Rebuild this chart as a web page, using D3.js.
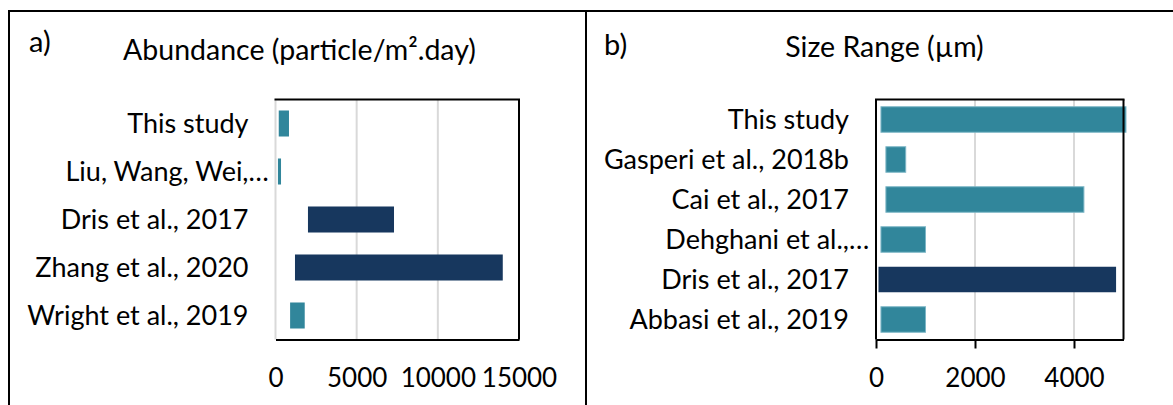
<!DOCTYPE html>
<html><head><meta charset="utf-8">
<script src="https://cdn.jsdelivr.net/npm/d3@7"></script>
<style>
body{margin:0;background:#fff}
svg{display:block}
text{font-family:Lato, "Open Sans", sans-serif; fill:#000}
</style>
</head><body>
<svg id="chart" width="1173" height="405"></svg>
<script>
// ---- Data ----
const abundanceStudies = ["This study", "Liu, Wang, Wei,…", "Dris et al., 2017", "Zhang et al., 2020", "Wright et al., 2019"];
const abundanceLow  = [200, 150, 2000, 1200, 900];
const abundanceHigh = [830, 340, 7300, 14000, 1800];
const abundanceDark = [false, false, true, true, false];
const abundanceTicks = [0, 5000, 10000, 15000];
const abundanceMax = 15000;

const sizeStudies = ["This study", "Gasperi et al., 2018b", "Cai et al., 2017", "Dehghani et al.,…", "Dris et al., 2017", "Abbasi et al., 2019"];
const sizeLow  = [100, 200, 200, 100, 50, 100];
const sizeHigh = [5050, 600, 4200, 1000, 4850, 1000];
const sizeDark = [false, false, false, false, true, false];
const sizeTicks = [0, 2000, 4000];
const sizeMax = 5000;

const titles = ["Abundance (particle/m\u00B2.day)", "Size Range (\u00B5m)"];
const panelTags = ["a)", "b)"];

// ---- Style ----
const TEAL = "#31869B", NAVY = "#17375E", GRID = "#d9d9d9";
const svg = d3.select("#chart");

// outer frame
svg.append("line").attr("x1", 8).attr("x2", 1173).attr("y1", 11).attr("y2", 11).attr("stroke", "#000").attr("stroke-width", 2);
svg.append("line").attr("x1", 9).attr("x2", 9).attr("y1", 10).attr("y2", 405).attr("stroke", "#000").attr("stroke-width", 2);
svg.append("line").attr("x1", 586).attr("x2", 586).attr("y1", 10).attr("y2", 405).attr("stroke", "#000").attr("stroke-width", 2);

function panel(cfg) {
  const g = svg.append("g");
  const x = d3.scaleLinear().domain([0, cfg.max]).range([cfg.x0, cfg.x1]);
  const p = cfg.pad;
  const y = d3.scaleBand().domain(cfg.cats).range([cfg.y0, cfg.y1]).paddingInner(p).paddingOuter(p / 2);

  // gridlines
  g.selectAll("line.grid").data(cfg.ticks.filter(t => t > 0 || !cfg.blackLeft)).join("line")
    .attr("class", "grid")
    .attr("x1", d => x(d)).attr("x2", d => x(d))
    .attr("y1", cfg.y0).attr("y2", cfg.y1)
    .attr("stroke", GRID).attr("stroke-width", 2);

  // bars
  const rows = cfg.cats.map((c, i) => ({c, lo: cfg.lo[i], hi: cfg.hi[i], dark: cfg.dark[i]}));
  g.selectAll("rect.bar").data(rows).join("rect")
    .attr("class", "bar")
    .attr("x", d => x(d.lo)).attr("width", d => x(d.hi) - x(d.lo))
    .attr("y", d => y(d.c)).attr("height", y.bandwidth())
    .attr("fill", d => d.dark ? NAVY : TEAL)
    .attr("stroke", d => (!d.dark && cfg.barStroke) ? cfg.barStroke : "none")
    .attr("stroke-width", 1);

  // frame
  g.append("line").attr("x1", cfg.x0 - 1).attr("x2", cfg.x1 + 1).attr("y1", cfg.y0).attr("y2", cfg.y0).attr("stroke", "#000").attr("stroke-width", 2);
  g.append("line").attr("x1", cfg.x1).attr("x2", cfg.x1).attr("y1", cfg.y0).attr("y2", cfg.y1).attr("stroke", "#000").attr("stroke-width", 2);
  if (cfg.blackLeft) {
    g.append("line").attr("x1", cfg.x0).attr("x2", cfg.x0).attr("y1", cfg.y0).attr("y2", cfg.y1).attr("stroke", "#000").attr("stroke-width", 2);
  }

  // x axis
  const ax = g.append("g").attr("transform", `translate(0,${cfg.y1})`)
    .call(d3.axisBottom(x).tickValues(cfg.ticks).tickFormat(d3.format("d"))
      .tickSize(cfg.tickLen).tickSizeOuter(0).tickPadding(cfg.tickPad));
  ax.select(".domain").attr("stroke", "#000").attr("stroke-width", 2);
  ax.selectAll(".tick line").attr("stroke", "#000").attr("stroke-width", 2).attr("stroke-opacity", cfg.tickLen > 0 ? 1 : 0);
  ax.selectAll(".tick text").attr("font-size", 26).attr("font-family", "Lato, sans-serif").attr("fill", "#000");

  // category labels
  const lx = cfg.x0 - 27;
  g.selectAll("text.cat").data(rows).join("text")
    .attr("class", "cat")
    .attr("x", lx).attr("y", d => y(d.c) + y.bandwidth() / 2).attr("dy", "0.36em")
    .attr("text-anchor", "end").attr("font-size", 27)
    .text(d => d.c.replace(/…$/, ""));
  g.selectAll("text.ell").data(rows.filter(d => /…$/.test(d.c))).join("text")
    .attr("class", "ell")
    .attr("x", lx).attr("y", d => y(d.c) + y.bandwidth() / 2).attr("dy", "0.36em")
    .attr("text-anchor", "start").attr("font-size", 27)
    .text("…");

  // title and tag
  g.append("text").attr("x", cfg.titleX).attr("y", cfg.titleY).attr("text-anchor", "middle").attr("font-size", 28.5).text(cfg.title);
  g.append("text").attr("x", cfg.tagX).attr("y", cfg.tagY).attr("font-size", 29).text(cfg.tag);
}

panel({cats: abundanceStudies, lo: abundanceLow, hi: abundanceHigh, dark: abundanceDark,
  ticks: abundanceTicks, max: abundanceMax, x0: 275.5, x1: 519, y0: 99.5, y1: 339.5,
  pad: 0.458, blackLeft: false, tickLen: 0, tickPad: 29, barStroke: null,
  title: titles[0], titleX: 299.5, titleY: 60, tag: panelTags[0], tagX: 29, tagY: 52});

panel({cats: sizeStudies, lo: sizeLow, hi: sizeHigh, dark: sizeDark,
  ticks: sizeTicks, max: sizeMax, x0: 876, x1: 1123.5, y0: 99.5, y1: 339.5,
  pad: 0.3625, blackLeft: true, tickLen: 9, tickPad: 20, barStroke: "#7db6c6",
  title: titles[1], titleX: 884.5, titleY: 57, tag: panelTags[1], tagX: 604, tagY: 55});
</script>
</body></html>
